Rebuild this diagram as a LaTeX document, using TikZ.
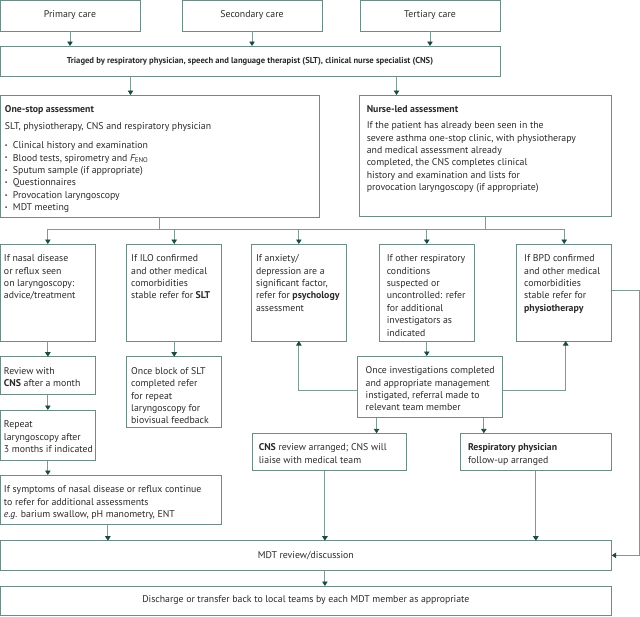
\documentclass[tikz,border=0pt]{standalone}
\usepackage{fontspec}
\setmainfont{PT Sans}
\usetikzlibrary{arrows.meta, calc}
\definecolor{boxc}{HTML}{6E8C87}
\definecolor{linec}{HTML}{7D9A95}
\definecolor{arrc}{HTML}{1D4A3E}
\definecolor{txtc}{HTML}{2A2A2A}
% text of a box, top left aligned: width, height, text, optional inset
\newcommand\cell[4][5pt]{\parbox[t][#3][t]{#2}{\raggedright\leftskip=#1\vspace*{9pt}\strut#4}}
\newcommand\bul{\makebox[8pt][l]{\raisebox{1.2pt}{\fontsize{6}{6}\selectfont\textbullet}}}
\tikzset{
  level/.style={rectangle, draw=boxc, line width=1pt, inner sep=0pt, outer sep=0pt, anchor=north west},
  srcbox/.style={level, align=center},
  arrow/.style={draw=linec, line width=0.9pt, -{Triangle[width=5.5pt,length=4.5pt,color=arrc]}},
  wire/.style={draw=linec, line width=0.9pt}
}
\begin{document}
\begin{tikzpicture}[x=1pt, y=-1pt, font=\fontsize{9.8}{12.4}\selectfont, text=txtc]
\useasboundingbox (0,0) rectangle (640,616);

% referrals
\node[srcbox, minimum width=140, minimum height=31] (primary) at (0,0) {Primary care};
\node[srcbox, minimum width=140, minimum height=31] (secondary) at (182,0) {Secondary care};
\node[srcbox, minimum width=140, minimum height=31] (tertiary) at (360,0) {Tertiary care};
\node[srcbox, minimum width=500, minimum height=30, font=\fontsize{8.6}{10}\selectfont] (triage) at (0,46) {\textbf{Triaged by respiratory physician, speech and language therapist (SLT), clinical nurse specialist (CNS)}};

% assessments
\node[level] (onestop) at (0,95) {\cell{319pt}{122pt}{\textbf{One-stop assessment}\\[4.6pt]
SLT, physiotherapy, CNS and respiratory physician\\[6.6pt]
\bul Clinical history and examination\\
\bul Blood tests, spirometry and {\itshape F}\textsubscript{ENO}\\
\bul Sputum sample (if appropriate)\\
\bul Questionnaires\\
\bul Provocation laryngoscopy\\
\bul MDT meeting}};
\node[level] (nurse) at (359.3,95) {\cell[7.5pt]{252.4pt}{121.5pt}{\textbf{Nurse-led assessment}\\[3.6pt]
If the patient has already been seen in the\\
severe asthma one-stop clinic, with physiotherapy\\
and medical assessment already\\
completed, the CNS completes clinical\\
history and examination and lists for\\
provocation laryngoscopy (if appropriate)}};

% referral row
\node[level] (nasal) at (0,244) {\cell[4pt]{95.7pt}{97pt}{If nasal disease\\or reflux seen\\on laryngoscopy:\\advice/treatment}};
\node[level] (ilo) at (126.7,244) {\cell[4.5pt]{95pt}{97pt}{If ILO confirmed\\and other medical\\comorbidities\\stable refer for \textbf{SLT}}};
\node[level] (anxiety) at (251,244) {\cell{95.7pt}{97pt}{If anxiety/\\depression are a\\significant factor,\\refer for \textbf{psychology}\\assessment}};
\node[level] (other) at (379.3,244) {\cell[7.5pt]{95pt}{97pt}{If other respiratory\\conditions\\suspected or\\uncontrolled: refer\\for additional\\investigators as\\indicated}};
\node[level] (bpd) at (516.7,244) {\cell[7.5pt]{95pt}{97pt}{If BPD confirmed\\and other medical\\comorbidities\\stable refer for\\\textbf{physiotherapy}}};

% follow-up
\node[level] (review) at (0,356.7) {\cell[4pt]{95.7pt}{37.6pt}{Review with\\\textbf{CNS} after a month}};
\node[level] (block) at (126.7,356.7) {\cell[4.5pt]{95pt}{71pt}{Once block of SLT\\completed refer\\for repeat\\laryngoscopy for\\biovisual feedback}};
\node[level] (investig) at (357.7,356) {\cell[8pt]{144.3pt}{61.7pt}{Once investigations completed\\and appropriate management\\instigated, referral made to\\relevant team member}};
\node[level] (repeat) at (0,410) {\cell[4pt]{95.7pt}{50pt}{Repeat\\laryngoscopy after\\3 months if indicated}};
\node[level] (symptoms) at (0,475) {\cell[4pt]{221.7pt}{49.3pt}{If symptoms of nasal disease or reflux continue\\to refer for additional assessments\\\textit{e.g.} barium swallow, pH manometry, ENT}};
\node[level] (cnsrev) at (252.3,433.3) {\cell[6.5pt]{154.4pt}{37.4pt}{\textbf{CNS} review arranged; CNS will\\liaise with medical team}};
\node[level] (resp) at (460,433.3) {\cell[8pt]{151.7pt}{37.4pt}{\textbf{Respiratory physician}\\follow-up arranged}};

% outcome
\node[srcbox, minimum width=611.7, minimum height=29.3] (mdt) at (0,540.7) {MDT review/discussion};
\node[srcbox, minimum width=611.7, minimum height=29] (disch) at (0,586) {Discharge or transfer back to local teams by each MDT member as appropriate};

% connectors
\foreach \s in {primary,secondary,tertiary}
  \draw[arrow] (\s.south) -- (\s.south |- triage.north);
\coordinate (t1) at ([xshift=-29]onestop.north);
\coordinate (t2) at ([xshift=-89]nurse.north);
\draw[arrow] (t1 |- triage.south) -- (t1);
\draw[arrow] (t2 |- triage.south) -- (t2);

\coordinate (bus) at (0,229);
\draw[wire] (onestop.south) -- (onestop.south |- bus);
\draw[wire] (nurse.south) -- (nurse.south |- bus);
\draw[wire] (nasal.north |- bus) -- (bpd.north |- bus);
\foreach \b in {nasal,ilo,anxiety,other,bpd}
  \draw[arrow] (\b.north |- bus) -- (\b.north);

\draw[arrow] (nasal.south) -- (review.north);
\draw[arrow] (review.south) -- (repeat.north);
\draw[arrow] (repeat.south) -- (repeat.south |- symptoms.north);
\draw[arrow] (ilo.south) -- (block.north);
\draw[arrow] (other.south) -- (other.south |- investig.north);
\draw[arrow] ([yshift=-4]investig.west) -| (anxiety.south);
\draw[arrow] ([yshift=-4]investig.east) -| ([xshift=1.5]bpd.south);

\coordinate (i1) at ([xshift=-53.3]investig.south);
\coordinate (i2) at ([xshift=54]investig.south);
\draw[arrow] (i1) -- (i1 |- cnsrev.north);
\draw[arrow] (i2) -- (i2 |- resp.north);

\coordinate (m1) at ([xshift=-3]symptoms.south);
\coordinate (m2) at ([xshift=-4.6]cnsrev.south);
\draw[arrow] (m1) -- (m1 |- mdt.north);
\draw[arrow] (m2) -- (m2 |- mdt.north);
\draw[arrow] (resp.south) -- (resp.south |- mdt.north);
\draw[arrow] ([yshift=1.8]bpd.east) -- ++(27.6,0) |- (mdt.east);
\draw[arrow] (m2 |- mdt.south) -- (m2 |- disch.north);

\end{tikzpicture}
\end{document}
